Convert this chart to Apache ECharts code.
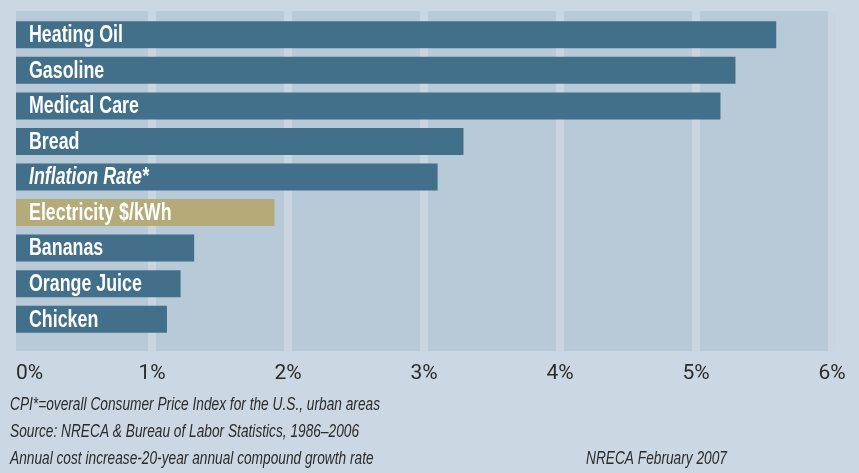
<!DOCTYPE html>
<html><head><meta charset="utf-8">
<script src="https://cdn.jsdelivr.net/npm/echarts@6/dist/echarts.min.js"></script>
<style>html,body{margin:0;padding:0;background:#cbd8e3;}#c{width:859px;height:473px;}</style>
</head><body><div id="c"></div>
<script>
const categories = ['Heating Oil','Gasoline','Medical Care','Bread','Inflation Rate*','Electricity $/kWh','Bananas','Orange Juice','Chicken'];
const values = [5.59, 5.29, 5.18, 3.29, 3.10, 1.90, 1.31, 1.21, 1.11];
const highlight = 'Electricity $/kWh';
const italicCat = 'Inflation Rate*';
const xMin = 0, xMax = 6, xStep = 1;
const notes = ['CPI*=overall Consumer Price Index for the U.S., urban areas','Source: NRECA & Bureau of Labor Statistics, 1986–2006','Annual cost increase-20-year annual compound growth rate'];
const credit = 'NRECA February 2007';

const BG = '#cbd8e3', PANEL = '#b8c9d7', BAR = '#426f8a', GOLD = '#b4ab78', TXT = '#2b2b2b';
const FONT = '"Liberation Sans","Arimo",Arial,sans-serif';

// condensed look: horizontal compression measured against target widths
const ctx = document.createElement('canvas').getContext('2d');
function measure(text, font) { ctx.font = font; return ctx.measureText(text).width; }
const LABEL_FONT = 'bold 23px ' + FONT;
const LABEL_SCALE = 94 / measure('Heating Oil', LABEL_FONT);
const NOTE_FONT = 'italic 19px ' + FONT;
const NOTE_SCALE = 370 / measure(notes[0], NOTE_FONT);

const chart = echarts.init(document.getElementById('c'));
chart.setOption({
  backgroundColor: BG,
  animation: false,
  grid: [
    {left: 16, right: 27, top: 11, bottom: 122},
    {left: 16, right: 27, top: 17, bottom: 136}
  ],
  xAxis: [
    {gridIndex: 0, type: 'value', min: xMin, max: xMax, interval: xStep,
     axisLine: {show: false}, axisTick: {show: false},
     axisLabel: {formatter: v => v + '%', color: TXT, fontFamily: 'Roboto', fontSize: 21, margin: 12, alignMinLabel: 'left'},
     splitArea: {show: true, areaStyle: {color: [PANEL, PANEL]}},
     splitLine: {show: true, showMinLine: false, showMaxLine: true, lineStyle: {color: '#c9d6e1', width: 8}}},
    {gridIndex: 1, type: 'value', min: xMin, max: xMax, interval: xStep, show: false}
  ],
  yAxis: [
    {gridIndex: 0, type: 'category', data: categories, show: false},
    {gridIndex: 1, type: 'category', data: categories, inverse: true, show: false}
  ],
  series: [{
    type: 'bar', xAxisIndex: 1, yAxisIndex: 1, barWidth: 27,
    data: categories.map((c, i) => ({
      value: values[i],
      itemStyle: {color: c === highlight ? GOLD : BAR}
    }))
  }, {
    type: 'custom', xAxisIndex: 1, yAxisIndex: 1, z: 5,
    data: categories.map((c, i) => [0, i]),
    renderItem: (params, api) => {
      const i = params.dataIndex;
      const p = api.coord([0, i]);
      const it = categories[i] === italicCat;
      return {
        type: 'text', x: p[0] + 13, y: p[1] + 1, scaleX: LABEL_SCALE,
        style: {text: categories[i], fill: '#ffffff',
          font: (it ? 'italic ' : '') + LABEL_FONT,
          align: 'left', verticalAlign: 'middle'}
      };
    }
  }],
  graphic: [
    ...notes.map((t, i) => ({type: 'text', x: 10, y: 405 + i * 27, scaleX: NOTE_SCALE,
      style: {text: t, fill: TXT, font: NOTE_FONT, verticalAlign: 'middle'}})),
    {type: 'text', x: 586, y: 459, scaleX: NOTE_SCALE,
      style: {text: credit, fill: TXT, font: NOTE_FONT, verticalAlign: 'middle'}}
  ]
});
</script></body></html>
